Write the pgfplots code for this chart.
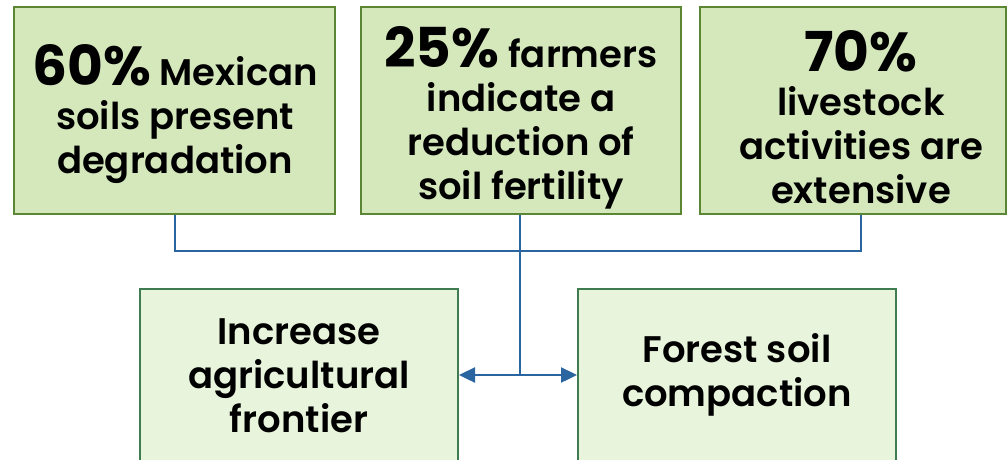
\documentclass[border=0pt]{standalone}
\usepackage{pgfplots}
\pgfplotsset{compat=1.18}
\usetikzlibrary{arrows.meta}
\usepackage{fontspec}
\setmainfont{Poppins}[UprightFont=* SemiBold, BoldFont=* Bold]
\definecolor{topfill}{HTML}{D5E8BC}
\definecolor{topedge}{HTML}{5B8634}
\definecolor{botfill}{HTML}{E8F5DC}
\definecolor{botedge}{HTML}{3F7D50}
\definecolor{linkblue}{HTML}{2A65A0}
\newcommand{\bignum}[1]{{\fontsize{55}{44}\selectfont\bfseries #1}}
\tikzset{boxtext/.style={align=center, font=\fontsize{37}{44}\selectfont, text=black, inner sep=0pt}}
\begin{document}
\begin{tikzpicture}
\begin{axis}[
  width=1007pt, height=459pt, scale only axis,
  xmin=0, xmax=1007, ymin=0, ymax=459, y dir=reverse,
  axis lines=none, clip=true,
]
% background
\addplot[draw=none, fill=white] coordinates {(0,0)(1007,0)(1007,459)(0,459)} -- cycle;
% connector lines
\addplot[linkblue, line width=2pt] coordinates {(175,214)(175,251)(861,251)(861,214)};
\addplot[linkblue, line width=2pt] coordinates {(520,214)(520,375)};
\addplot[linkblue, line width=2.4pt, {Triangle[length=16pt,width=15pt]}-{Triangle[length=16pt,width=15pt]}] coordinates {(459,375)(577,375)};
% top boxes
\addplot[fill=topfill, draw=topedge, line width=2.5pt] coordinates {(14,7)(335,7)(335,214)(14,214)} -- cycle;
\addplot[fill=topfill, draw=topedge, line width=2.5pt] coordinates {(361,7)(681,7)(681,214)(361,214)} -- cycle;
\addplot[fill=topfill, draw=topedge, line width=2.5pt] coordinates {(700,7)(1006,7)(1006,214)(700,214)} -- cycle;
% bottom boxes
\addplot[fill=botfill, draw=botedge, line width=2.5pt] coordinates {(140,289)(458,289)(458,470)(140,470)} -- cycle;
\addplot[fill=botfill, draw=botedge, line width=2.5pt] coordinates {(578,289)(896,289)(896,470)(578,470)} -- cycle;
% texts
\node[boxtext] at (axis cs:175,114) {\bignum{60\%} Mexican\\soils present\\degradation};
\node[boxtext] at (axis cs:521,118) {\bignum{25\%} farmers\\indicate a\\reduction of\\soil fertility};
\node[boxtext] at (axis cs:861,117) {\bignum{70\%}\\livestock\\activities are\\extensive};
\node[boxtext] at (axis cs:299,376) {Increase\\agricultural\\frontier};
\node[boxtext] at (axis cs:737,375) {Forest soil\\compaction};
\end{axis}
\end{tikzpicture}
\end{document}
